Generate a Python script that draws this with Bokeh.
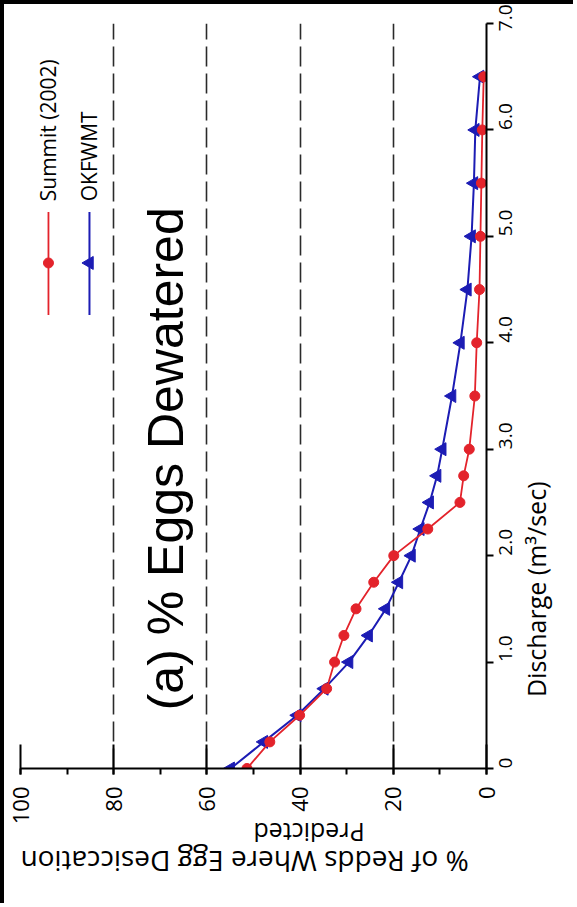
import numpy as np
from bokeh.plotting import figure
from bokeh.models import (Range1d, SingleIntervalTicker, FixedTicker, Label,
                          ColumnDataSource, LinearAxis)
from bokeh.embed import file_html
from bokeh.resources import INLINE

# ---- data ----
discharge = [0, 0.25, 0.5, 0.75, 1.0, 1.25, 1.5, 1.75, 2.0, 2.25, 2.5, 2.75,
             3.0, 3.5, 4.0, 4.5, 5.0, 5.5, 6.0, 6.5]
summit_2002 = [51.4, 46.5, 40.1, 34.3, 32.6, 30.6, 28.0, 24.2, 19.9, 12.6, 5.7, 4.9,
               3.7, 2.5, 2.1, 1.5, 1.3, 1.1, 0.9, 0.6]
okfwmt = [54.9, 47.8, 40.6, 34.8, 29.5, 25.3, 21.6, 18.8, 16.1, 14.2, 12.2, 10.6,
          9.5, 7.4, 5.6, 4.1, 3.2, 2.7, 2.4, 1.4]
series_names = ["Summit (2002)", "OKFWMT"]
q_ticks = [0, 1, 2, 3, 4, 5, 6, 7]
q_tick_labels = ["0", "1.0", "2.0", "3.0", "4.0", "5.0", "6.0", "7.0"]
title_text = "(a) % Eggs Dewatered"
xlabel_text = "Discharge (m\u00b3/sec)"
ylabel_line1 = "% of Redds Where Egg Desiccation"
ylabel_line2 = "Predicted"

RED = "#e3232b"
BLUE = "#1c1cb4"
FONT = "Open Sans"

# The chart is shown rotated 90 degrees counter-clockwise:
# horizontal axis = % (reversed), vertical axis = discharge.
p = figure(width=573, height=903, output_backend="svg", toolbar_location=None,
           x_range=Range1d(100, 0), y_range=Range1d(0, 7),
           y_axis_location="right",
           min_border_left=16, min_border_right=91,
           min_border_top=19, min_border_bottom=139)
p.outline_line_color = None
p.background_fill_color = "white"
p.border_fill_color = "white"
p.styles = {"border-left": "4px solid black", "border-top": "4px solid black"}

# percent axis (bottom)
xa = p.xaxis[0]
xa.ticker = SingleIntervalTicker(interval=20, num_minor_ticks=2)
xa.major_label_orientation = np.pi / 2
xa.major_tick_in = 24
xa.major_tick_out = 6
xa.minor_tick_in = 0
xa.minor_tick_out = 6
xa.axis_line_width = 2
xa.major_tick_line_width = 2
xa.minor_tick_line_width = 2
xa.major_label_text_font = FONT
xa.major_label_text_font_size = "22px"
xa.major_label_text_color = "black"
xa.major_label_standoff = 12
xa.axis_label = ylabel_line2
xa.axis_label_orientation = np.pi
xa.axis_label_text_align = "center"
xa.axis_label_text_font = FONT
xa.axis_label_text_font_size = "25px"
xa.axis_label_text_font_style = "normal"
xa.axis_label_text_color = "black"
xa.axis_label_standoff = 6

# second (label-only) axis below for the first line of the y title
xa2 = LinearAxis(ticker=FixedTicker(ticks=[]), axis_line_color=None,
                 major_tick_line_color=None, minor_tick_line_color=None,
                 major_tick_out=0, minor_tick_out=0, major_tick_in=0,
                 major_label_standoff=0, major_label_text_font_size="0px")
xa2.axis_label = ylabel_line1
xa2.axis_label_orientation = np.pi
xa2.axis_label_align = "end"
xa2.axis_label_text_font = FONT
xa2.axis_label_text_font_size = "28px"
xa2.axis_label_text_font_style = "normal"
xa2.axis_label_text_color = "black"
xa2.axis_label_standoff = -9
p.add_layout(xa2, "below")

# discharge axis (right)
ya = p.yaxis[0]
ya.ticker = q_ticks
ya.major_label_overrides = {t: l for t, l in zip(q_ticks, q_tick_labels)}
ya.major_label_orientation = np.pi / 2
ya.major_tick_in = 0
ya.major_tick_out = 7
ya.minor_tick_line_color = None
ya.axis_line_width = 2
ya.major_tick_line_width = 2
ya.major_label_text_font = FONT
ya.major_label_text_font_size = "19px"
ya.major_label_text_color = "black"
ya.major_label_standoff = 12
ya.axis_label = "\u00a0" * 11 + xlabel_text
ya.axis_label_orientation = np.pi / 2
ya.axis_label_align = "start"
ya.axis_label_text_font = FONT
ya.axis_label_text_font_size = "25px"
ya.axis_label_text_font_style = "normal"
ya.axis_label_text_color = "black"
ya.axis_label_standoff = 14

# grid: dashed lines at the percent ticks only
p.xgrid.ticker = SingleIntervalTicker(interval=20)
p.xgrid.grid_line_color = "#2a2a2a"
p.xgrid.grid_line_dash = "20 7"
p.xgrid.grid_line_width = 1.6
p.ygrid.grid_line_color = None

# series
src = ColumnDataSource(dict(q=discharge, s=summit_2002, o=okfwmt))
p.line("o", "q", source=src, line_color=BLUE, line_width=2)
p.scatter("o", "q", source=src, marker="triangle", size=13, angle=np.pi / 2,
          fill_color=BLUE, line_color=BLUE)
p.line("s", "q", source=src, line_color=RED, line_width=1.8)
p.scatter("s", "q", source=src, marker="circle", size=10,
          fill_color=RED, line_color=RED)

# legend (rotated, drawn by hand)
leg_x = [94.0, 85.2]
leg_q0, leg_q1, leg_qm, leg_qt = 4.26, 5.23, 4.75, 5.33
p.line([leg_x[0], leg_x[0]], [leg_q0, leg_q1], line_color=RED, line_width=1.8)
p.scatter([leg_x[0]], [leg_qm], marker="circle", size=10, fill_color=RED, line_color=RED)
p.line([leg_x[1], leg_x[1]], [leg_q0, leg_q1], line_color=BLUE, line_width=2)
p.scatter([leg_x[1]], [leg_qm], marker="triangle", size=13, angle=np.pi / 2,
          fill_color=BLUE, line_color=BLUE)
for lx, name in zip(leg_x, series_names):
    p.add_layout(Label(x=lx, y=leg_qt, text=name, angle=np.pi / 2, angle_units="rad",
                       text_align="left", text_baseline="middle",
                       text_font=FONT, text_font_size="21px", text_color="black"))

# big title inside plot
p.add_layout(Label(x=68.7, y=2.91, text=title_text, angle=np.pi / 2, angle_units="rad",
                   text_align="center", text_baseline="middle",
                   text_font="Liberation Sans", text_font_size="50px", text_color="black"))

open("out.html", "w").write(file_html(p, INLINE))
